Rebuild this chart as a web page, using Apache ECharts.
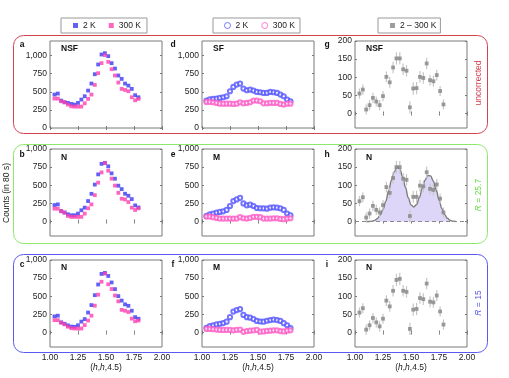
<!DOCTYPE html>
<html>
<head>
<meta charset="utf-8">
<script src="https://cdn.jsdelivr.net/npm/echarts@6/dist/echarts.min.js"></script>
<style>
  html, body { margin: 0; padding: 0; background: #fff; }
  #chart { width: 509px; height: 378px; }
</style>
</head>
<body>
<div id="chart"></div>
<script>
// scan positions along (h,h,4.5)
const hVals = [1.04, 1.07, 1.10, 1.13, 1.16, 1.19, 1.22, 1.25, 1.28, 1.31, 1.34, 1.37, 1.40,
  1.43, 1.46, 1.49, 1.52, 1.55, 1.58, 1.61, 1.64, 1.67, 1.70, 1.73, 1.76, 1.79]

// a: NSF uncorrected
const a2K = [461, 475, 378, 355, 346, 332, 323, 346, 392, 438, 516, 613, 742, 876, 1014, 1032, 991, 894, 820, 724, 677, 613, 585, 539, 452, 424]
const a300K = [406, 406, 369, 355, 323, 300, 295, 295, 295, 341, 401, 461, 594, 756, 895, 1005, 912, 811, 724, 627, 539, 525, 507, 424, 382, 401]
// b: N, R = 25.7
const b2K = [227, 236, 145, 123, 100, 86, 86, 109, 155, 191, 282, 382, 509, 650, 795, 809, 761, 664, 590, 494, 447, 383, 355, 309, 222, 194]
const b300K = [177, 177, 141, 123, 77, 64, 64, 64, 64, 109, 182, 236, 364, 536, 677, 805, 700, 591, 495, 395, 314, 305, 268, 191, 159, 182]
// c: N, R = 15
const c2K = [222, 232, 140, 120, 98, 82, 78, 100, 150, 185, 275, 378, 515, 662, 808, 822, 780, 690, 598, 502, 440, 388, 368, 300, 212, 190]
const c300K = [170, 170, 135, 112, 80, 60, 55, 55, 55, 102, 165, 232, 370, 522, 700, 812, 665, 600, 510, 430, 312, 300, 282, 192, 155, 165]
// d: SF uncorrected
const d2K = [378, 396, 401, 406, 415, 424, 438, 507, 567, 599, 613, 544, 521, 530, 516, 498, 493, 484, 484, 498, 493, 484, 461, 438, 392, 369]
const d300K = [360, 360, 355, 346, 336, 336, 336, 336, 332, 336, 355, 341, 346, 355, 378, 378, 369, 341, 341, 346, 346, 346, 332, 323, 336, 336]
// e: M, R = 25.7
const e2K = [77, 100, 109, 123, 132, 141, 159, 214, 282, 305, 327, 250, 223, 232, 214, 186, 182, 182, 177, 191, 195, 191, 182, 159, 109, 86]
const e300K = [68, 68, 59, 50, 41, 41, 41, 41, 41, 41, 59, 45, 41, 50, 64, 64, 59, 41, 41, 41, 45, 45, 36, 32, 41, 45]
// f: M, R = 15
const f2K = [65, 90, 100, 112, 120, 130, 150, 212, 288, 310, 322, 242, 212, 205, 185, 160, 152, 150, 162, 172, 178, 172, 160, 128, 100, 62]
const f300K = [50, 50, 45, 40, 35, 35, 35, 35, 30, 35, 40, 10, 20, 25, 30, 35, 12, 15, 22, 25, 30, 30, 20, 15, 25, 30]
// g, h, i: 2 K - 300 K difference with error bars
const gDiff = [55, 66, 11, 23, 43, 33, 23, 48, 101, 86, 127, 152, 152, 122, 118, 17, 69, 70, 101, 98, 138, 92, 89, 106, 62, 25]
const hDiff = [56, 67, 11, 22, 43, 32, 25, 45, 95, 79, 120, 150, 150, 118, 115, 15, 68, 68, 99, 97, 136, 90, 87, 102, 63, 25]
const iDiff = [55, 67, 8, 20, 40, 28, 17, 38, 88, 72, 115, 145, 148, 115, 112, 10, 63, 65, 95, 92, 135, 85, 83, 102, 58, 22]
const diffErr = [14, 14, 14, 14, 14, 14, 14, 14, 15, 15, 16, 17, 17, 16, 16, 17, 17, 17, 16, 16, 16, 15, 15, 15, 14, 14]
// two-peak fit drawn in panel h
const fitH = [1.100, 1.125, 1.150, 1.175, 1.200, 1.225, 1.250, 1.275, 1.300, 1.325, 1.350, 1.375, 1.400,
  1.425, 1.450, 1.475, 1.500, 1.525, 1.550, 1.575, 1.600, 1.625, 1.650, 1.675, 1.700, 1.725, 1.750,
  1.775, 1.800, 1.825, 1.850, 1.875, 1.900]
const fitV = [0, 0, 1, 3, 8, 18, 33, 56, 84, 113, 137, 150, 145, 124, 95, 66, 46, 40, 47, 66, 91, 114, 127,
  126, 111, 87, 60, 36, 19, 9, 3, 1, 0]

const xTicks = [1.00, 1.25, 1.50, 1.75, 2.00]
const countTicks = [0, 250, 500, 750, 1000]
const diffTicks = [0, 50, 100, 150, 200]

const FONT = 'Liberation Sans, Arial, Helvetica, sans-serif'
const COL_LEFT = [50, 202, 355]
const ROW_TOP = [41, 149, 260]
const PLOT_W = 112
const PLOT_H = 87
const BLUE = '#3a3af2'
const PINK = '#ff3fae'
const BLUE_O = '#5555ff'
const PINK_O = '#ff5cc6'
const GREY = '#858585'

const LEGEND_TEXT = { sq2: '2 K', sq300: '300 K', ci2: '2 K', ci300: '300 K', diff: '2 – 300 K' }

const thousands = v => String(v).replace(/\B(?=(\d{3})+(?!\d))/g, ',')
const pairs = (xs, ys) => xs.map((x, i) => [x, ys[i]])

function yRange (row, col) {
  if (col === 2) return { min: -40, max: 200, ticks: diffTicks }
  if (row === 0) return { min: 0, max: 1200, ticks: countTicks }
  return { min: -200, max: 1000, ticks: countTicks }
}

const grid = []
const xAxis = []
const yAxis = []
for (let r = 0; r < 3; r++) {
  for (let c = 0; c < 3; c++) {
    grid.push({
      left: COL_LEFT[c], top: ROW_TOP[r], width: PLOT_W, height: PLOT_H,
      show: true, borderColor: '#7a7a7a', borderWidth: 1, containLabel: false
    })
  }
}
// bottom / left axes carry labels, top / right ones only mirror the ticks
for (let k = 0; k < 18; k++) {
  const g = k % 9
  const row = Math.floor(g / 3)
  const col = g % 3
  const mirror = k >= 9
  xAxis.push({
    type: 'value', gridIndex: g, min: 1, max: 2, position: mirror ? 'top' : 'bottom',
    axisLine: { show: false },
    splitLine: { show: false },
    axisTick: { show: true, inside: true, length: 2, customValues: xTicks, lineStyle: { color: '#7a7a7a' } },
    axisLabel: {
      show: !mirror && row === 2, customValues: xTicks, margin: 6,
      fontFamily: FONT, fontSize: 8.5, color: '#222',
      formatter: v => v.toFixed(2)
    }
  })
  const yr = yRange(row, col)
  yAxis.push({
    type: 'value', gridIndex: g, min: yr.min, max: yr.max, position: mirror ? 'right' : 'left',
    axisLine: { show: false },
    splitLine: { show: false },
    axisTick: { show: true, inside: true, length: 2, customValues: yr.ticks, lineStyle: { color: '#7a7a7a' } },
    axisLabel: {
      show: !mirror, customValues: yr.ticks, margin: 3,
      fontFamily: FONT, fontSize: 8.5, color: '#222',
      formatter: thousands
    }
  })
}

function errorBar (params, api) {
  const x = api.value(0)
  const lo = api.coord([x, api.value(1)])
  const hi = api.coord([x, api.value(2)])
  return {
    type: 'line',
    shape: { x1: lo[0], y1: lo[1], x2: hi[0], y2: hi[1] },
    style: { stroke: '#c6c6c6', lineWidth: 1.2 }
  }
}

const series = []
// squares: a, b, c
;[[a2K, a300K], [b2K, b300K], [c2K, c300K]].forEach(([hot, cold], r) => {
  const g = r * 3
  series.push({ name: 'sq2', type: 'scatter', xAxisIndex: g, yAxisIndex: g, symbol: 'rect', symbolSize: 3.8,
    itemStyle: { color: BLUE }, data: pairs(hVals, hot) })
  series.push({ name: 'sq300', type: 'scatter', xAxisIndex: g, yAxisIndex: g, symbol: 'rect', symbolSize: 3.8,
    itemStyle: { color: PINK }, data: pairs(hVals, cold) })
})
// open circles: d, e, f
;[[d2K, d300K], [e2K, e300K], [f2K, f300K]].forEach(([hot, cold], r) => {
  const g = r * 3 + 1
  series.push({ name: 'ci2', type: 'scatter', xAxisIndex: g, yAxisIndex: g, symbol: 'emptyCircle', symbolSize: 4.2,
    itemStyle: { color: BLUE_O, borderWidth: 0.7 }, data: pairs(hVals, hot) })
  series.push({ name: 'ci300', type: 'scatter', xAxisIndex: g, yAxisIndex: g, symbol: 'emptyCircle', symbolSize: 4.2,
    itemStyle: { color: PINK_O, borderWidth: 0.7 }, data: pairs(hVals, cold) })
})
// differences: g, h, i
;[gDiff, hDiff, iDiff].forEach((vals, r) => {
  const g = r * 3 + 2
  if (r === 1) {
    series.push({
      name: 'fit', type: 'line', xAxisIndex: g, yAxisIndex: g, smooth: 0.4, smoothMonotone: 'x',
      showSymbol: false, z: 1,
      lineStyle: { color: '#7d7d7d', width: 1.4 },
      areaStyle: { color: '#ddd6f8', opacity: 1 },
      data: pairs(fitH, fitV),
      markLine: {
        silent: true, symbol: 'none', label: { show: false },
        lineStyle: { color: '#8a8a8a', type: [4, 3], width: 1 },
        data: [{ yAxis: 0 }]
      }
    })
  }
  series.push({
    name: 'diffErr', type: 'custom', xAxisIndex: g, yAxisIndex: g, z: 2,
    renderItem: errorBar, encode: { x: 0, y: [1, 2] },
    data: hVals.map((x, i) => [x, vals[i] - diffErr[i], vals[i] + diffErr[i]])
  })
  series.push({ name: 'diff', type: 'scatter', xAxisIndex: g, yAxisIndex: g, symbol: 'rect', symbolSize: 3.8, z: 3,
    itemStyle: { color: GREY }, data: pairs(hVals, vals) })
})

const legendBase = {
  orient: 'horizontal', top: 18, itemGap: 13, itemWidth: 5, itemHeight: 5,
  backgroundColor: '#fff', borderColor: '#999', borderWidth: 1, borderRadius: 0,
  textStyle: { fontFamily: FONT, fontSize: 8.5, color: '#222' },
  formatter: name => LEGEND_TEXT[name], selectedMode: false
}
const legend = [
  Object.assign({}, legendBase, { left: 61, padding: [3, 6, 3, 12],
    data: [{ name: 'sq2', icon: 'rect' }, { name: 'sq300', icon: 'rect' }] }),
  Object.assign({}, legendBase, { left: 213, padding: [3, 5, 3, 11], itemWidth: 6, itemHeight: 6,
    data: [
      { name: 'ci2', icon: 'circle', itemStyle: { color: '#fff', borderColor: BLUE_O, borderWidth: 1 } },
      { name: 'ci300', icon: 'circle', itemStyle: { color: '#fff', borderColor: PINK_O, borderWidth: 1 } }
    ] }),
  Object.assign({}, legendBase, { left: 378, padding: [3, 4, 3, 12],
    data: [{ name: 'diff', icon: 'rect' }] })
]

// panel frames, letters and side notes
const graphic = []
const frames = [
  { y: 35.5, h: 98, color: '#d2434f' },
  { y: 144.5, h: 99, color: '#8ee86c' },
  { y: 254.5, h: 98, color: '#5a5af2' }
]
frames.forEach(f => {
  graphic.push({ type: 'rect', shape: { x: 13.5, y: f.y, width: 474, height: f.h, r: 10 },
    style: { fill: 'none', stroke: f.color, lineWidth: 1 }, silent: true, z: -1 })
})
const letters = [['a', 'd', 'g'], ['b', 'e', 'h'], ['c', 'f', 'i']]
const tags = [['NSF', 'SF', 'NSF'], ['N', 'M', 'N'], ['N', 'M', 'N']]
const LETTER_X = [22, 173, 327]
const LETTER_DY = [4, 6, 5]
const TAG_DY = [8, 9, 7.5]
for (let r = 0; r < 3; r++) {
  for (let c = 0; c < 3; c++) {
    graphic.push({ type: 'text', x: LETTER_X[c], y: ROW_TOP[r] + LETTER_DY[r],
      style: { text: letters[r][c], font: 'bold 8.5px ' + FONT, fill: '#111', align: 'center', verticalAlign: 'middle' } })
    graphic.push({ type: 'text', x: COL_LEFT[c] + 11, y: ROW_TOP[r] + TAG_DY[r],
      style: { text: tags[r][c], font: 'bold 8.5px ' + FONT, fill: '#111', align: 'left', verticalAlign: 'middle' } })
  }
}
const sideNotes = [
  { y: 83, text: 'uncorrected', color: '#d2434f' },
  { y: 195, text: '{i|R} = 25.7', color: '#66dd44' },
  { y: 303, text: '{i|R} = 15', color: '#5a5af2' }
]
sideNotes.forEach(n => {
  graphic.push({ type: 'text', x: 479, y: n.y, rotation: Math.PI / 2,
    style: { text: n.text, font: '8.5px ' + FONT, fill: n.color, align: 'center', verticalAlign: 'middle',
      rich: { i: { fontStyle: 'italic', fontFamily: FONT, fontSize: 8.5, fill: n.color } } } })
})
graphic.push({ type: 'text', x: 7, y: 193, rotation: Math.PI / 2,
  style: { text: 'Counts (in 80 s)', font: '8.5px ' + FONT, fill: '#222', align: 'center', verticalAlign: 'middle' } })
COL_LEFT.forEach(left => {
  graphic.push({ type: 'text', x: left + PLOT_W / 2, y: 368,
    style: { text: '({i|h},{i|h},4.5)', font: '8.5px ' + FONT, fill: '#222', align: 'center', verticalAlign: 'middle',
      rich: { i: { fontStyle: 'italic', fontFamily: FONT, fontSize: 8.5, fill: '#222' } } } })
})

const chart = echarts.init(document.getElementById('chart'), null, { renderer: 'canvas' })
chart.setOption({
  animation: false,
  backgroundColor: '#fff',
  textStyle: { fontFamily: FONT },
  grid, xAxis, yAxis, legend, series, graphic
})
</script>
</body>
</html>
